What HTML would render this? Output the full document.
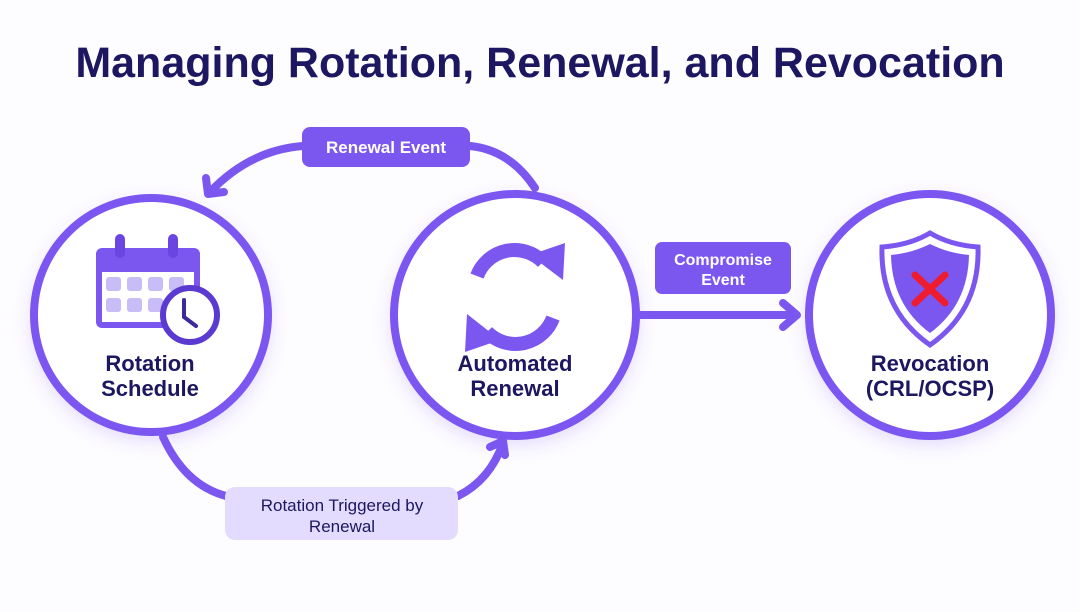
<!DOCTYPE html>
<html><head><meta charset="utf-8"><style>
body{margin:0;width:1080px;height:607px;background:#fdfcff;overflow:hidden;font-family:"Liberation Sans",sans-serif}
</style></head><body>
<svg width="1080" height="607" viewBox="0 0 1080 607">
<defs>
<filter id="sh" x="-20%" y="-20%" width="140%" height="140%"><feDropShadow dx="0" dy="6" stdDeviation="8" flood-color="#7b57f0" flood-opacity="0.18"/></filter>
</defs>
<text x="540" y="77" text-anchor="middle" font-size="43" font-weight="bold" fill="#1c1760">Managing Rotation, Renewal, and Revocation</text>
<g fill="none" stroke="#7b57f0" stroke-width="8" stroke-linecap="round">
<path d="M535 188 Q510 150 470 146"/>
<path d="M303 146 Q250 150 210 192"/>
<path d="M163 437 Q185 485 226 496"/>
<path d="M458 496 Q490 480 503 443"/>
<path d="M640 315 L795 315"/>
</g>
<g fill="none" stroke="#7b57f0" stroke-width="8" stroke-linecap="round" stroke-linejoin="round">
<path d="M206 178 L208 194 L224 192"/>
<path d="M490 447 L503 441 L505 455"/>
<path d="M783 303 L797 315 L783 327"/>
</g>
<g filter="url(#sh)" fill="#fff" stroke="#7b57f0" stroke-width="8">
<circle cx="151" cy="315" r="117"/>
<circle cx="515" cy="315" r="121"/>
<circle cx="930" cy="315" r="121"/>
</g>
<rect x="302" y="127" width="168" height="40" rx="8" fill="#7b57f0"/>
<text x="386" y="153" text-anchor="middle" font-size="17" font-weight="bold" fill="#fff">Renewal Event</text>
<rect x="655" y="242" width="136" height="52" rx="7" fill="#7b57f0"/>
<text x="723" y="265" text-anchor="middle" font-size="16" font-weight="bold" fill="#fff">Compromise</text>
<text x="723" y="285" text-anchor="middle" font-size="16" font-weight="bold" fill="#fff">Event</text>
<rect x="225" y="487" width="233" height="53" rx="10" fill="#e4dcff"/>
<text x="342" y="511" text-anchor="middle" font-size="17" fill="#1c1760">Rotation Triggered by</text>
<text x="342" y="532" text-anchor="middle" font-size="17" fill="#1c1760">Renewal</text>
<!-- calendar -->
<rect x="96" y="248" width="104" height="80" rx="6" fill="#7b57f0"/>
<rect x="102" y="272" width="92" height="50" fill="#fff"/>
<rect x="115" y="234" width="10" height="24" rx="5" fill="#6a45e0"/>
<rect x="168" y="234" width="10" height="24" rx="5" fill="#6a45e0"/>
<g fill="#c9bdf7"><rect x="106" y="277" width="15" height="14" rx="3"/><rect x="127" y="277" width="15" height="14" rx="3"/><rect x="148" y="277" width="15" height="14" rx="3"/><rect x="169" y="277" width="15" height="14" rx="3"/><rect x="106" y="298" width="15" height="14" rx="3"/><rect x="127" y="298" width="15" height="14" rx="3"/><rect x="148" y="298" width="15" height="14" rx="3"/></g>
<circle cx="190" cy="315" r="27" fill="#fff" stroke="#5a3ad0" stroke-width="6"/>
<path d="M184 300 V317 L196 326" fill="none" stroke="#3a2a9a" stroke-width="4" stroke-linecap="round"/>
<text x="150" y="371" text-anchor="middle" font-size="22" font-weight="bold" fill="#1c1760">Rotation</text>
<text x="150" y="396" text-anchor="middle" font-size="22" font-weight="bold" fill="#1c1760">Schedule</text>
<!-- refresh -->
<g fill="none" stroke="#7b57f0" stroke-width="14">
<path d="M477 276 A40 40 0 0 1 543 262"/>
<path d="M553 318 A40 40 0 0 1 487 332"/>
</g>
<path d="M530 255 L565 243 L563 280 Z" fill="#7b57f0"/>
<path d="M500 340 L465 352 L467 314 Z" fill="#7b57f0"/>
<text x="515" y="371" text-anchor="middle" font-size="22" font-weight="bold" fill="#1c1760">Automated</text>
<text x="515" y="396" text-anchor="middle" font-size="22" font-weight="bold" fill="#1c1760">Renewal</text>
<!-- shield -->
<path d="M930 233 Q950 245 978 247 Q980 310 930 345 Q880 310 882 247 Q910 245 930 233 Z" fill="#fff" stroke="#7b57f0" stroke-width="5"/>
<path d="M930 244 Q948 253 969 255 Q968 305 930 333 Q892 305 891 255 Q912 253 930 244 Z" fill="#7b57f0"/>
<path d="M915 275 L945 303 M945 275 L915 303" stroke="#ee1c2e" stroke-width="7" stroke-linecap="round"/>
<text x="930" y="371" text-anchor="middle" font-size="22" font-weight="bold" fill="#1c1760">Revocation</text>
<text x="930" y="396" text-anchor="middle" font-size="22" font-weight="bold" fill="#1c1760">(CRL/OCSP)</text>
</svg>
</body></html>
